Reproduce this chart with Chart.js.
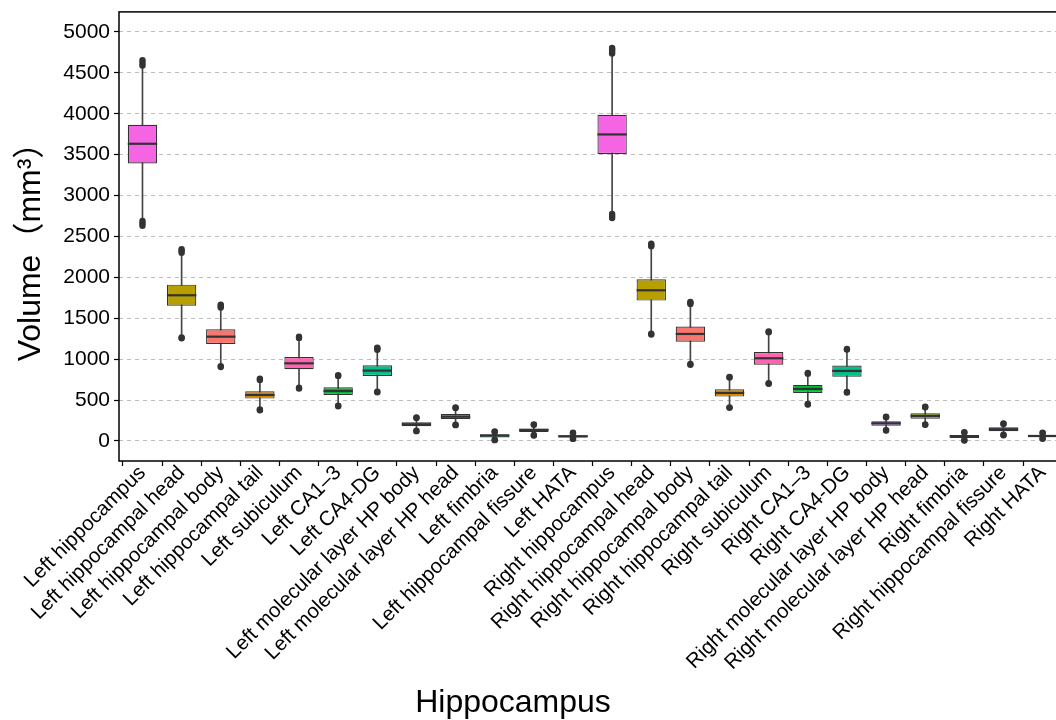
<!DOCTYPE html>
<html>
<head>
<meta charset="utf-8">
<title>Hippocampal subfield volumes</title>
<script src="https://cdn.jsdelivr.net/npm/chart.js@4.4.1/dist/chart.umd.min.js"></script>
<style>
  html, body { margin: 0; padding: 0; background: #fff; overflow: hidden; }
  #wrap { width: 1056px; height: 720px; overflow: hidden; }
  canvas { display: block; margin-top: -5px; }
</style>
</head>
<body>
<div id="wrap"><canvas id="chart" width="1083" height="725"></canvas></div>
<script>
// Hippocampal structures, left hemisphere then right
const categories = [
  'Left hippocampus', 'Left hippocampal head', 'Left hippocampal body', 'Left hippocampal tail',
  'Left subiculum', 'Left CA1\u20133', 'Left CA4-DG', 'Left molecular layer HP body',
  'Left molecular layer HP head', 'Left fimbria', 'Left hippocampal fissure', 'Left HATA',
  'Right hippocampus', 'Right hippocampal head', 'Right hippocampal body', 'Right hippocampal tail',
  'Right subiculum', 'Right CA1\u20133', 'Right CA4-DG', 'Right molecular layer HP body',
  'Right molecular layer HP head', 'Right fimbria', 'Right hippocampal fissure', 'Right HATA'
];

// Box statistics (mm³)
const q1 = [3392, 1654, 1186, 518, 876, 562, 795, 179, 269, 41, 110, 41,
            3507, 1716, 1214, 542, 933, 587, 786, 187, 273, 37, 118, 45];
const medians = [3633, 1781, 1275, 562, 949, 611, 860, 204, 297, 65, 134, 57,
                 3747, 1842, 1308, 587, 1011, 636, 856, 216, 306, 57, 143, 61];
const q3 = [3866, 1911, 1365, 607, 1027, 656, 925, 228, 330, 81, 151, 69,
            3988, 1976, 1398, 632, 1088, 685, 921, 240, 338, 73, 167, 73];
const whiskerLow = [2700, 1270, 920, 390, 655, 435, 608, 130, 203, 20, 76, 35,
                    2790, 1320, 948, 416, 712, 456, 605, 138, 207, 16, 82, 36];
const whiskerHigh = [4580, 2290, 1620, 740, 1250, 790, 1105, 278, 398, 105, 192, 85,
                     4720, 2370, 1665, 768, 1318, 815, 1108, 285, 405, 97, 200, 90];
const outliersLow = [
  [2630, 2660, 2690], [1255, 1265], [905, 915], [375, 385], [640, 650], [425, 432],
  [595, 603], [120, 126], [193, 199], [10, 16], [66, 72], [25, 32],
  [2725, 2750, 2775], [1300, 1312], [932, 940], [405, 411], [698, 705], [445, 451],
  [592, 598], [127, 133], [197, 203], [6, 12], [70, 76], [26, 32]
];
const outliersHigh = [
  [4590, 4620, 4655], [2300, 2325, 2345], [1630, 1650, 1665], [745, 760], [1260, 1275], [795, 805],
  [1115, 1130, 1140], [282, 288], [403, 410], [110, 116], [197, 203], [95, 100],
  [4735, 4760, 4785, 4805], [2380, 2395, 2412], [1675, 1688, 1700], [775, 782], [1328, 1338], [823, 830],
  [1117, 1125], [290, 296], [412, 419], [102, 108], [208, 214], [96, 102]
];
const yTicks = [0, 500, 1000, 1500, 2000, 2500, 3000, 3500, 4000, 4500, 5000];
const xTitle = 'Hippocampus';
const yTitle = 'Volume\uFF08mm\u00B3\uFF09';

// One fill per structure, repeated for both hemispheres
const structureColors = ['#F564E3', '#B79F00', '#F8766D', '#DE8C00', '#FF64B0', '#00BA38',
                         '#00C08B', '#C77CFF', '#7CAE00', '#00BFC4', '#619CFF', '#00B4F0'];
const boxFills = categories.map((c, i) => structureColors[i % structureColors.length]);

const ink = '#333333';
const fontFamily = '"Liberation Sans", Arial, "Noto Sans CJK SC", sans-serif';

// Panel border and axis titles
const panelPlugin = {
  id: 'panel',
  afterDraw(chart, args, opts) {
    const { ctx, chartArea: a } = chart;
    ctx.save();
    ctx.strokeStyle = '#000';
    ctx.lineWidth = 1.5;
    ctx.strokeRect(a.left, a.top, a.right - a.left, a.bottom - a.top);
    ctx.fillStyle = '#000';
    ctx.font = '32px ' + fontFamily;
    ctx.textAlign = 'center';
    ctx.textBaseline = 'middle';
    ctx.fillText(xTitle, opts.xTitleX, opts.xTitleY);
    ctx.translate(opts.yTitleX, opts.yTitleY);
    ctx.rotate(-Math.PI / 2);
    ctx.fillText(yTitle, 0, 0);
    ctx.restore();
  }
};

new Chart(document.getElementById('chart'), {
  type: 'bar',
  data: {
    datasets: [
      {
        type: 'bar',
        label: 'whisker',
        data: categories.map((c, i) => ({ x: i, y: [whiskerLow[i], whiskerHigh[i]] })),
        backgroundColor: '#444444',
        grouped: false,
        maxBarThickness: 1,
        barPercentage: 1,
        categoryPercentage: 1,
        order: 4
      },
      {
        type: 'bar',
        label: 'box',
        data: categories.map((c, i) => ({ x: i, y: [q1[i], q3[i]] })),
        backgroundColor: boxFills,
        borderColor: ink,
        borderWidth: 1.2,
        borderSkipped: false,
        grouped: false,
        barPercentage: 0.75,
        categoryPercentage: 1,
        order: 3
      },
      {
        type: 'scatter',
        label: 'median',
        data: categories.map((c, i) => ({ x: i, y: medians[i] })),
        pointStyle: 'line',
        pointRadius: 14.7,
        pointHoverRadius: 14.7,
        borderColor: ink,
        borderWidth: 2.2,
        order: 2
      },
      {
        type: 'scatter',
        label: 'outlier',
        data: categories.flatMap((c, i) =>
          outliersLow[i].concat(outliersHigh[i]).map(v => ({ x: i, y: v }))),
        pointStyle: 'circle',
        pointRadius: 3.2,
        pointHoverRadius: 3.2,
        backgroundColor: ink,
        borderWidth: 0,
        order: 1
      }
    ]
  },
  options: {
    responsive: false,
    animation: false,
    events: [],
    layout: { padding: { left: 0, top: 12, right: 0, bottom: 0 } },
    plugins: {
      legend: { display: false },
      tooltip: { enabled: false },
      panel: { xTitleX: 513, xTitleY: 708, yTitleX: 31, yTitleY: 249 }
    },
    scales: {
      x: {
        type: 'linear',
        offset: false,
        min: -0.6,
        max: categories.length - 0.4,
        afterBuildTicks: s => { s.ticks = categories.map((c, i) => ({ value: i })); },
        afterFit: s => { s.height = 259; },
        grid: { drawOnChartArea: false, drawTicks: true, tickLength: 5, tickColor: '#000', tickWidth: 1.2 },
        border: { display: false },
        ticks: {
          autoSkip: false,
          minRotation: 45,
          maxRotation: 45,
          padding: -5,
          color: '#000',
          font: { family: fontFamily, size: 20.5 },
          callback: v => categories[v]
        }
      },
      y: {
        type: 'linear',
        min: -245,
        max: 5245,
        afterBuildTicks: s => { s.ticks = yTicks.map(v => ({ value: v })); },
        afterFit: s => { s.width = 119; },
        grid: { color: '#BEBEBE', lineWidth: 1, tickLength: 5, tickColor: '#000', tickWidth: 1.2, tickBorderDash: [] },
        border: { display: false, dash: [4, 4] },
        ticks: {
          padding: 4,
          color: '#000',
          font: { family: fontFamily, size: 21, lineHeight: 0.5 },
          callback: v => String(v)
        }
      }
    }
  },
  plugins: [panelPlugin]
});
</script>
</body>
</html>
